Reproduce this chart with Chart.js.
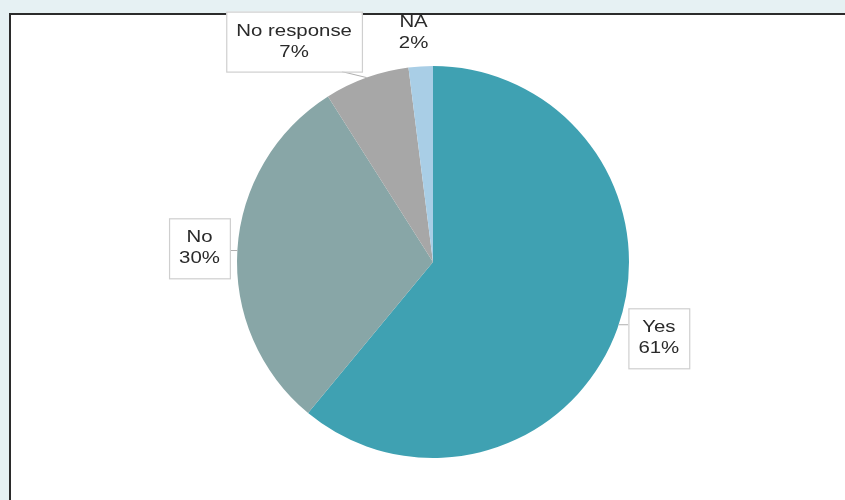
<!DOCTYPE html>
<html>
<head>
<meta charset="utf-8">
<script src="https://cdn.jsdelivr.net/npm/chart.js@4/dist/chart.umd.min.js"></script>
<style>
  html, body { margin: 0; padding: 0; background: #e6f1f3; }
  #wrap { position: absolute; left: 0; top: 0; width: 845px; height: 500px; }
  canvas { display: block; }
</style>
</head>
<body>
<div id="wrap"><canvas id="c" width="845" height="500"></canvas></div>
<script>
// ---- data ----
const categories = ["Yes", "No", "No response", "NA"];
const values = [61, 30, 7, 2];
const percentLabels = ["61%", "30%", "7%", "2%"];
const sliceColors = ["#3fa1b2", "#88a6a7", "#a7a7a7", "#a9cee6"];

// ---- styling for the callout labels (radial distance + nudge, px) ----
const labelPlacement = [
  { dist: 240, dx: 0,   dy: -5, box: true,  anchor: "near" },
  { dist: 234, dx: 0,   dy: 1,  box: true,  anchor: "near" },
  { dist: 230, dx: -61, dy: -4, box: true,  anchor: "mid"  },
  { dist: 230, dx: -5,  dy: 0,  box: false, anchor: "mid"  }
];

const panelPlugin = {
  id: "panel",
  beforeDraw(chart) {
    const ctx = chart.ctx;
    ctx.save();
    ctx.fillStyle = "#e6f1f3";
    ctx.fillRect(0, 0, chart.width, chart.height);
    ctx.fillStyle = "#ffffff";
    ctx.fillRect(10, 14, chart.width - 10, chart.height - 14);
    ctx.strokeStyle = "#2b2b2b";
    ctx.lineWidth = 2;
    ctx.beginPath();
    ctx.moveTo(10, chart.height + 2);
    ctx.lineTo(10, 14);
    ctx.lineTo(chart.width + 2, 14);
    ctx.stroke();
    ctx.restore();
  }
};

const calloutPlugin = {
  id: "callouts",
  afterDatasetsDraw(chart) {
    const ctx = chart.ctx;
    const meta = chart.getDatasetMeta(0);
    const fontSize = 17, lineH = 21, sx = 1.2, padX = 10, padY = 9;
    ctx.save();
    ctx.font = fontSize + "px 'Liberation Sans', Arial, sans-serif";
    meta.data.forEach((arc, i) => {
      const p = labelPlacement[i];
      const { x, y, startAngle, endAngle, outerRadius } = arc.getProps(["x","y","startAngle","endAngle","outerRadius"], true);
      const mid = (startAngle + endAngle) / 2;
      const cx = x + Math.cos(mid) * p.dist + p.dx;
      const cy = y + Math.sin(mid) * p.dist + p.dy;
      const lines = [categories[i], percentLabels[i]];
      const w = Math.max(...lines.map(t => ctx.measureText(t).width)) * sx;
      const h = lineH * lines.length;
      const bx = cx - w / 2 - padX, by = cy - h / 2 - padY;
      const bw = w + 2 * padX, bh = h + 2 * padY;
      let ax, ay;
      if (p.anchor === "mid") {
        ax = x + Math.cos(mid) * outerRadius;
        ay = y + Math.sin(mid) * outerRadius;
      } else {
        const a = Math.atan2(cy - y, cx - x);
        ax = x + Math.cos(a) * outerRadius;
        ay = y + Math.sin(a) * outerRadius;
      }
      if (p.box) {
        let nx = Math.min(Math.max(ax, bx), bx + bw);
        let ny = Math.min(Math.max(ay, by), by + bh);
        if (p.anchor === "mid") { nx = bx + bw - 20; ny = by + bh; }
        if (Math.hypot(nx - ax, ny - ay) > 2) {
          ctx.strokeStyle = "#b0b0b0";
          ctx.lineWidth = 1;
          ctx.beginPath();
          ctx.moveTo(nx, ny);
          ctx.lineTo(ax, ay);
          ctx.stroke();
        }
        ctx.fillStyle = "#ffffff";
        ctx.fillRect(bx, by, bw, bh);
        ctx.strokeStyle = "#cfcfcf";
        ctx.lineWidth = 1.2;
        ctx.strokeRect(bx + 0.5, by + 0.5, bw, bh);
      }
      ctx.fillStyle = "#2a2a2a";
      ctx.textAlign = "center";
      ctx.textBaseline = "middle";
      lines.forEach((t, k) => {
        const ty = cy - h / 2 + lineH * (k + 0.5);
        ctx.save();
        ctx.translate(cx, ty);
        ctx.scale(sx, 1);
        ctx.fillText(t, 0, 0);
        ctx.restore();
      });
    });
    ctx.restore();
  }
};

new Chart(document.getElementById("c"), {
  type: "pie",
  data: {
    labels: categories,
    datasets: [{
      data: values,
      backgroundColor: sliceColors,
      borderWidth: 0
    }]
  },
  options: {
    responsive: false,
    animation: false,
    layout: { padding: { left: 237, right: 216, top: 66, bottom: 42 } },
    plugins: {
      legend: { display: false },
      tooltip: { enabled: false },
      title: { display: false }
    }
  },
  plugins: [panelPlugin, calloutPlugin]
});
</script>
</body>
</html>
